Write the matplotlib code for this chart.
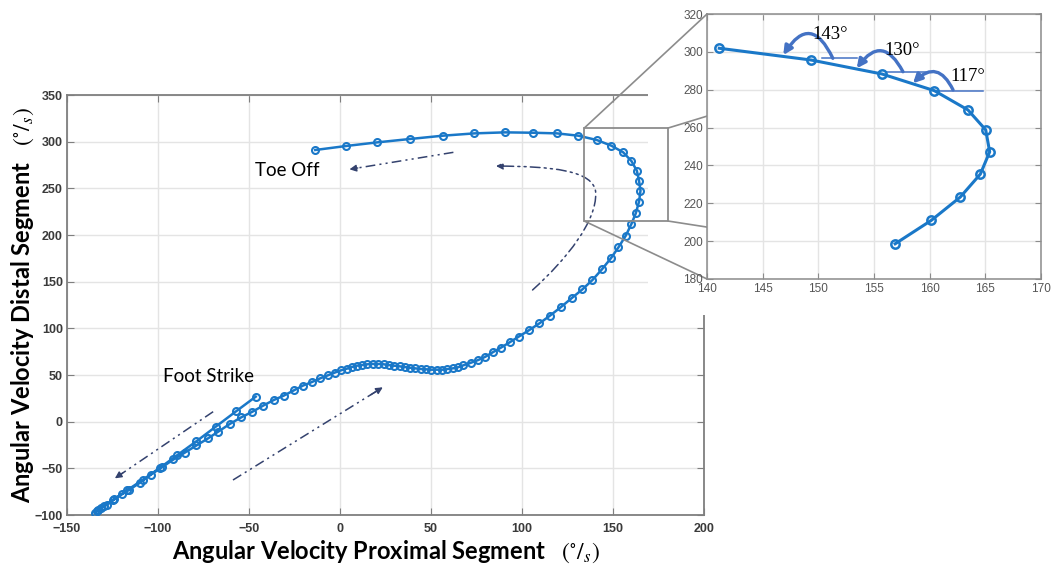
import matplotlib
matplotlib.use('Agg')
import matplotlib.pyplot as plt
from matplotlib import font_manager
from matplotlib.patches import Rectangle, FancyArrowPatch, ConnectionPatch
from matplotlib.path import Path

# gait trajectory (deg/s): proximal segment vs distal segment, foot strike -> toe off
x_main = [-46.3, -56.9, -68.3, -78.9, -89.5, -99.0, -108.5, -117.0, -124.0, -129.5, -133.0, -134.8,
          -133.5, -131.5, -128.0, -124.6, -120.0, -115.8, -110.0, -104.1, -98.0, -91.5, -85.3, -78.9,
          -72.5, -67.0, -60.6, -54.2, -48.1, -42.3, -36.4, -30.8, -25.3, -20.4, -15.4, -10.8, -6.6,
          -3.0, 0.5, 3.8, 6.5, 9.3, 12.2, 15.1, 18.0, 21.0, 23.9, 26.8, 29.7, 32.7, 35.6, 38.5, 41.4,
          44.4, 47.3, 50.2, 53.1, 56.1, 59.0, 61.9, 64.7, 67.8, 72.0, 76.0, 79.9, 83.9, 88.4, 93.2,
          98.1, 104.0, 109.6, 115.3, 121.2, 127.2, 133.2, 138.7, 143.9, 148.8, 153.0, 157.0, 160.1,
          162.5, 164.3, 165.1, 164.3, 163.1, 160.1, 155.6, 149.1, 141.1, 131.0, 119.2, 105.8, 90.6,
          73.8, 56.4, 38.5, 20.6, 3.4, -13.6]
y_main = [26.8, 11.4, -5.4, -21.0, -36.0, -49.5, -62.5, -73.5, -83.0, -90.0, -95.0, -97.5,
          -96.0, -93.0, -89.0, -84.0, -78.0, -73.0, -65.5, -57.0, -49.0, -40.5, -33.2, -25.5,
          -17.9, -10.8, -2.5, 4.7, 10.7, 17.1, 23.2, 28.0, 33.6, 38.6, 42.5, 46.5, 49.7,
          52.5, 55.0, 56.8, 58.6, 60.0, 60.7, 61.5, 61.8, 61.8, 61.5, 60.7, 60.0, 59.3, 58.6, 57.8, 57.1,
          56.4, 56.1, 55.7, 55.7, 55.7, 56.4, 57.1, 58.2, 60.4, 63.2, 66.1, 69.6, 74.3, 79.3, 85.0,
          91.0, 98.2, 105.4, 113.5, 122.5, 132.2, 141.8, 151.8, 163.2, 175.0, 186.8, 199.3, 211.8,
          223.2, 235.7, 247.5, 258.2, 268.9, 279.3, 288.6, 295.7, 301.8, 306.4, 308.9, 309.6, 310.0,
          308.9, 306.4, 302.9, 299.3, 295.4, 291.1]

# zoomed part of the loop
x_zoom = [156.9, 160.15, 162.75, 164.55, 165.39, 165.03, 163.44, 160.42, 155.72, 149.34, 141.1]
y_zoom = [198.6, 211.0, 223.3, 235.4, 247.2, 258.8, 269.3, 279.5, 288.3, 295.7, 301.9]

# angle marks in the zoom (label, label pos, arc start, arc end, arc bend, reference line)
angle_labels = ['143°', '130°', '117°']
angle_text_pos = [(151.1, 309.0), (157.5, 300.5), (163.4, 287.0)]
arc_start = [(151.3, 296.6), (157.6, 289.5), (162.1, 279.9)]
arc_end = [(146.85, 298.3), (153.45, 291.3), (158.5, 283.4)]
arc_bend = [0.9, 0.8, 0.7]
ref_x0 = [150.3, 156.2, 160.5]
ref_x1 = [153.5, 160.1, 164.8]
ref_y = [296.6, 289.2, 279.5]

# direction arrows (start, end) in data units
arrow_pairs = [((-69.7, 10.7), (-123.7, -60.7)),
               ((-58.8, -62.5), (23.5, 36.8)),
               ((62.3, 288.6), (5.2, 270.4))]
zoom_box = (134.2, 215.0, 180.2, 314.6)

BLUE = '#1a78c8'
NAVY = '#34426e'
GREY = '#8c8c8c'
DASH = (0, (7, 3, 1.5, 3, 1.5, 3))

names = {f.name for f in font_manager.fontManager.ttflist}
tick_font = 'Liberation Sans Narrow' if 'Liberation Sans Narrow' in names else 'Liberation Sans'
plt.rcParams['lines.scale_dashes'] = False
plt.rcParams['mathtext.fontset'] = 'stix'

fig = plt.figure(figsize=(10.51, 5.70), dpi=100)

# main axes
ax = fig.add_axes([0.06375, 0.09649, 0.6061, 0.7368])
ax.plot(x_main, y_main, '-o', color=BLUE, lw=1.8, ms=5, mfc='none', mew=1.5, zorder=3)
ax.set_xlim(-150, 200)
ax.set_ylim(-100, 350)
ax.set_xticks(range(-150, 201, 50))
ax.set_yticks(range(-100, 351, 50))
ax.grid(color='#e4e4e4', lw=1)
ax.set_axisbelow(True)
ax.tick_params(direction='in', top=True, right=True, length=5, color='#7f7f7f',
               labelsize=9, labelcolor='#3a3a3a', pad=6)
ax.tick_params(axis='y', pad=3)
for lbl in ax.get_xticklabels() + ax.get_yticklabels():
    lbl.set_fontweight('bold')
    lbl.set_family(tick_font)
for s in ax.spines.values():
    s.set_color('#7f7f7f')
    s.set_linewidth(1.3)

ax.set_xlabel(r'Angular Velocity Proximal Segment   $(^{\circ}/_{s})$', fontsize=17,
              fontweight='bold', family='Lato', labelpad=2)
ax.set_ylabel(r'Angular Velocity Distal Segment   $(^{\circ}/_{s})$', fontsize=17,
              fontweight='bold', family='Lato')
ax.yaxis.set_label_coords(-0.049, 0.5)

ax.text(-46.9, 268.6, 'Toe Off', fontsize=13.5, family='Lato', va='center', ha='left')
ax.text(-97.3, 47.9, 'Foot Strike', fontsize=13.5, family='Lato', va='center', ha='left')

for (p0, p1) in arrow_pairs:
    ax.plot([p0[0], p1[0]], [p0[1], p1[1]], color=NAVY, lw=1.1, ls=DASH, zorder=2)
    ax.annotate('', xy=p1, xytext=(p1[0] + (p0[0] - p1[0]) * 0.08, p1[1] + (p0[1] - p1[1]) * 0.08),
                arrowprops=dict(arrowstyle='-|>', color=NAVY, lw=1.0, mutation_scale=10,
                                shrinkA=0, shrinkB=0))

curve = Path([(105.8, 141.1), (125.0, 175.0), (141.0, 215.0), (140.5, 245.0),
              (140.0, 270.0), (115.0, 273.5), (85.7, 273.9)],
             [Path.MOVETO, Path.CURVE4, Path.CURVE4, Path.CURVE4,
              Path.CURVE4, Path.CURVE4, Path.CURVE4])
ax.add_patch(FancyArrowPatch(path=curve, arrowstyle='-|>', mutation_scale=10, color=NAVY,
                             lw=1.1, linestyle=DASH, zorder=2))

# blank area behind the zoom panel
fig.add_artist(Rectangle((0.6166, 0.4474), 0.4, 0.6, transform=fig.transFigure,
                         facecolor='white', edgecolor='none', zorder=1))

# zoom panel
axin = fig.add_axes([0.6727, 0.51053, 0.3178, 0.4649])
axin.set_zorder(3)
axin.plot(x_zoom, y_zoom, '-o', color=BLUE, lw=2.2, ms=6, mfc='none', mew=1.8, zorder=3)
axin.set_xlim(140, 170)
axin.set_ylim(180, 320)
axin.set_xticks(range(140, 171, 5))
axin.set_yticks(range(180, 321, 20))
axin.grid(color='#e4e4e4', lw=1)
axin.set_axisbelow(True)
axin.tick_params(direction='in', top=True, right=True, length=4, color='#8c8c8c',
                 labelsize=8.5, labelcolor='#555555', pad=3)
for lbl in axin.get_xticklabels() + axin.get_yticklabels():
    lbl.set_family('Liberation Sans')
for s in axin.spines.values():
    s.set_color(GREY)
    s.set_linewidth(1.1)

for i in range(len(angle_labels)):
    axin.plot([ref_x0[i], ref_x1[i]], [ref_y[i], ref_y[i]], color='#4472c4', lw=1.1, zorder=2)
    axin.add_patch(FancyArrowPatch(arc_start[i], arc_end[i], arrowstyle='-|>', mutation_scale=13,
                                   connectionstyle='arc3,rad=%.2f' % arc_bend[i],
                                   color='#4472c4', lw=2.4, shrinkA=0, shrinkB=0, zorder=4))
    axin.text(angle_text_pos[i][0], angle_text_pos[i][1], angle_labels[i], fontsize=13.5,
              family='Liberation Serif', ha='center', va='center', zorder=5)

# zoom box and connectors
bx0, by0, bx1, by1 = zoom_box
fig.add_artist(Rectangle((bx0, by0), bx1 - bx0, by1 - by0, transform=ax.transData,
                         facecolor='none', edgecolor=GREY, lw=1.3, zorder=2))
for (xa, ya), xyb in [((bx0, by1), (0, 1)), ((bx1, by1), (1, 1)),
                      ((bx1, by0), (1, 0)), ((bx0, by0), (0, 0))]:
    fig.add_artist(ConnectionPatch(xyA=(xa, ya), coordsA=ax.transData, xyB=xyb,
                                   coordsB=axin.transAxes, color=GREY, lw=1.2, zorder=2))

fig.savefig('out.png', dpi=100)
